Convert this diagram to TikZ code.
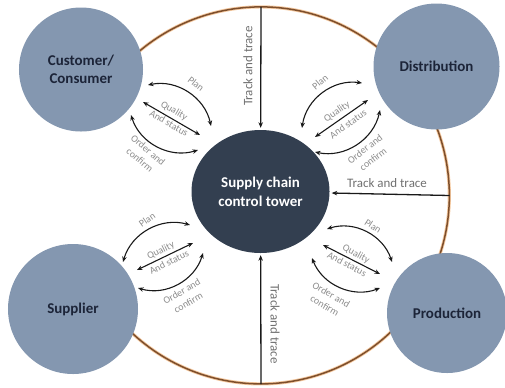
\documentclass[tikz,border=0pt]{standalone}
\usepackage{fontspec}
\setmainfont{Carlito}
\usetikzlibrary{arrows.meta,shapes.geometric}
\definecolor{partyfill}{HTML}{8497B0}
\definecolor{hubfill}{HTML}{333F50}
\definecolor{partytext}{HTML}{1C2438}
\definecolor{ringbrown}{HTML}{7E4F2C}
\definecolor{ringglow}{HTML}{F4C9A0}
\definecolor{labelgrey}{HTML}{8C8C8C}
\definecolor{tracegrey}{HTML}{707070}
\begin{document}
\begin{tikzpicture}[x=1bp,y=-1bp,
  party/.style={circle, fill=partyfill, inner sep=0pt, text=partytext,
    font=\bfseries\fontsize{15}{18}\selectfont, align=center},
  hub/.style={ellipse, fill=hubfill, minimum width=138bp, minimum height=123bp,
    inner sep=0pt, text=white, font=\bfseries\fontsize{15}{19}\selectfont, align=center},
  flow/.style={line width=1.1bp, draw=black!90, {Stealth[length=5.5bp,width=4.5bp]}-{Stealth[length=5.5bp,width=4.5bp]}},
  track/.style={line width=1.3bp, draw=black!90, -{Stealth[length=5.5bp,width=4.5bp]}, shorten >=2bp},
  tag/.style={text=labelgrey, font=\fontsize{10}{13}\selectfont, align=center, inner sep=0pt},
  tracelabel/.style={text=tracegrey, font=\fontsize{13}{15}\selectfont, inner sep=0pt},
]
\useasboundingbox (0,0) rectangle (505,387);

% outer ring (open on the left, between customer and supplier)
\node[circle, minimum size=377bp, inner sep=0pt] (ring) at (261,195.5) {};
\draw[ringglow, line width=3.2bp] (ring.145) arc[start angle=-145, end angle=145, radius=188.5];
\draw[ringbrown, line width=1.5bp] (ring.145) arc[start angle=-145, end angle=145, radius=188.5];

% central tower
\node[hub] (tower) at (260.5,191.5) {Supply chain\\control tower};

% track and trace lines
\draw[track] (ring.north) -- (tower);
\draw[track] (ring.south) -- (tower);
\draw[track] (ring.east) -- (tower);
\node[tracelabel, rotate=90] (ttTop) at (248,66) {Track and trace};
\node[tracelabel, rotate=-90] (ttBottom) at (275,324) {Track and trace};
\node[tracelabel] (ttRight) at (387,183) {Track and trace};

% parties
\node[party, minimum size=124bp] (customer) at (81,69.5) {Customer/\\Consumer};
\node[party, minimum size=126bp] (distribution) at (436.5,66.5) {Distribution};
\node[party, minimum size=130bp] (supplier) at (73,309) {Supplier};
\node[party, minimum size=120bp] (production) at (447,313) {Production};

% customer exchanges
\coordinate (cuPa) at (148,85);  \coordinate (cuPb) at (211,126);
\coordinate (cuQa) at (143,102); \coordinate (cuQb) at (200,135);
\coordinate (cuOa) at (131,115); \coordinate (cuOb) at (198,150);
\draw[flow] (cuPa) to[bend left=45] (cuPb);
\draw[flow] (cuQa) -- (cuQb);
\draw[flow] (cuOa) to[bend right=45] (cuOb);
\node[tag, rotate=-38] (cuPlan) at (196,84) {Plan};
\node[tag, rotate=-30] (cuQual) at (174,111) {Quality};
\node[tag, rotate=-30] (cuStat) at (169,123) {And status};
\node[tag, rotate=-40] (cuOrd) at (144,155) {Order and\\confirm};

% distribution exchanges
\coordinate (diPa) at (362,83);  \coordinate (diPb) at (302,128);
\coordinate (diQa) at (315,137); \coordinate (diQb) at (368,100);
\coordinate (diOa) at (315,152); \coordinate (diOb) at (380,110);
\draw[flow] (diPa) to[bend right=45] (diPb);
\draw[flow] (diQa) -- (diQb);
\draw[flow] (diOa) to[bend right=45] (diOb);
\node[tag, rotate=40] (diPlan) at (320,82) {Plan};
\node[tag, rotate=35] (diQual) at (337,112) {Quality};
\node[tag, rotate=35] (diStat) at (348,124) {And status};
\node[tag, rotate=38] (diOrd) at (369,154) {Order and\\confirm};

% supplier exchanges
\coordinate (suPa) at (123,262); \coordinate (suPb) at (190,225);
\coordinate (suQa) at (137,270); \coordinate (suQb) at (193,243);
\coordinate (suOa) at (138,288); \coordinate (suOb) at (203,253);
\draw[flow] (suPa) to[bend left=45] (suPb);
\draw[flow] (suQa) -- (suQb);
\draw[flow] (suOa) to[bend right=45] (suOb);
\node[tag, rotate=35] (suPlan) at (147,220) {Plan};
\node[tag, rotate=27] (suQual) at (161,251) {Quality};
\node[tag, rotate=27] (suStat) at (169,262) {And status};
\node[tag, rotate=30] (suOrd) at (185,297) {Order and\\confirm};

% production exchanges
\coordinate (prPa) at (327,229); \coordinate (prPb) at (392,262);
\coordinate (prQa) at (323,245); \coordinate (prQb) at (380,274);
\coordinate (prOa) at (312,258); \coordinate (prOb) at (380,288);
\draw[flow] (prPa) to[bend left=45] (prPb);
\draw[flow] (prQa) -- (prQb);
\draw[flow] (prOa) to[bend right=45] (prOb);
\node[tag, rotate=-33] (prPlan) at (373,226) {Plan};
\node[tag, rotate=-28] (prQual) at (356,254) {Quality};
\node[tag, rotate=-28] (prStat) at (347,264) {And status};
\node[tag, rotate=-30] (prOrd) at (328,300) {Order and\\confirm};
\end{tikzpicture}
\end{document}
